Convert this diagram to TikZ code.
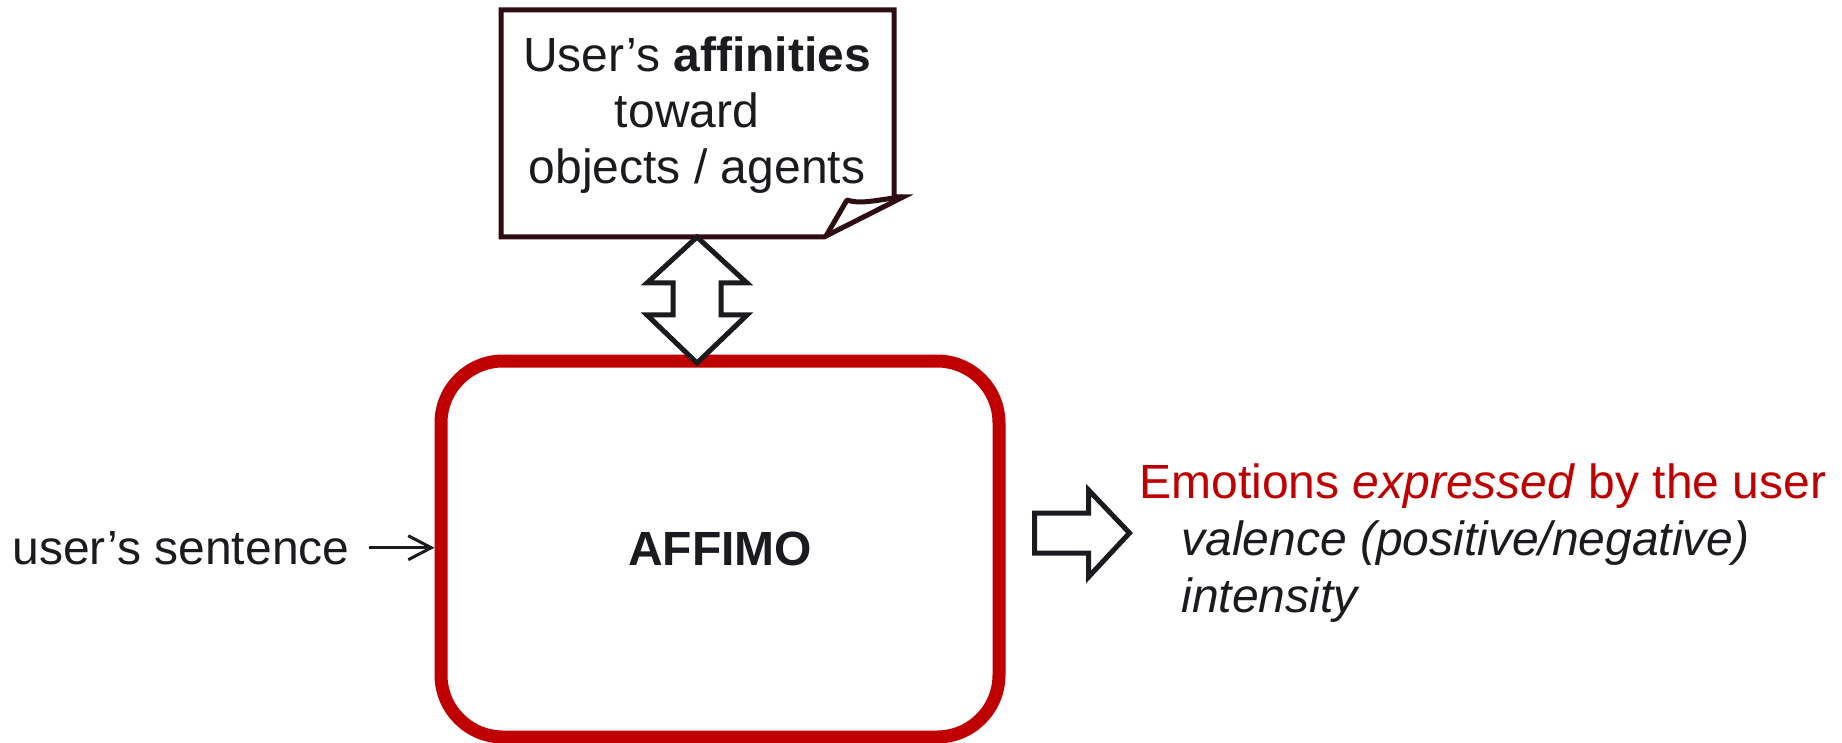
\documentclass[tikz,border=0pt]{standalone}
\usepackage{fontspec}
\setmainfont{Liberation Sans}
\usetikzlibrary{arrows.meta,calc}
\definecolor{affred}{RGB}{192,0,0}
\definecolor{ink}{RGB}{28,26,30}
\definecolor{noteline}{RGB}{45,12,18}
\begin{document}
\begin{tikzpicture}[x=0.5pt,y=-0.5pt,
  txt/.style={font=\fontsize{24}{28}\selectfont, text=ink, inner sep=0pt},
  hollow/.style={draw=ink, line width=2.5pt, fill=white, line join=miter},
  noteedge/.style={draw=noteline, line width=2.5pt},
  mainbox/.style={draw=affred, line width=6.5pt, rounded corners=31pt,
    minimum width=279pt, minimum height=188pt, inner sep=0pt,
    font=\fontsize{24}{28}\selectfont\bfseries, text=ink},
  thin arrow/.style={draw=ink, line width=1.5pt,
    -{Straight Barb[length=11.5pt,width=12pt]}}]
\useasboundingbox (0,0) rectangle (1842,743);

% note card with a curled lower-right corner
\path[noteedge, fill=white, line join=miter]
  (501,10) -- (894,10) -- (894,197) -- (903,197) -- (824,237) -- (501,237) -- cycle;
\path[noteedge, line join=round]
  (903,197) .. controls (880,199) and (862,205) .. (847,200) -- (826,236);
\node[txt, align=center] (note) at (697,115)
  {User’s \textbf{affinities}\\toward\kern10pt\\objects / agents};
\coordinate (notebottom) at (697,237);

% main processing block
\node[mainbox] (affimo) at (720,549) {AFFIMO};

% two-way exchange between the card and the block
\draw[hollow] (notebottom) -- ++(50,46) -- ++(-26,0) -- ++(0,32) -- ++(26,0)
  -- ++(-50,48) -- ++(-50,-48) -- ++(26,0) -- ++(0,-32) -- ++(-26,0) -- cycle;

% input
\node[txt, anchor=base west] (input) at (12,564) {user’s sentence};
\draw[thin arrow] ([xshift=9.5pt]input.east) -- (input.east -| affimo.west);

% output
\draw[hollow] ($(affimo.east)+(29,-36)$) -- ++(54,0) -- ++(0,-23) -- ++(41,43)
  -- ++(-41,44) -- ++(0,-24) -- ++(-54,0) -- cycle;
\node[txt, anchor=west, align=left, font=\fontsize{24}{28.5}\selectfont] (output) at (1139,543)
  {\textcolor{affred}{Emotions \textit{expressed} by the user}\\
   \hspace*{21pt}\textit{valence (positive/negative)}\\
   \hspace*{21pt}\textit{intensity}};
\end{tikzpicture}
\end{document}
